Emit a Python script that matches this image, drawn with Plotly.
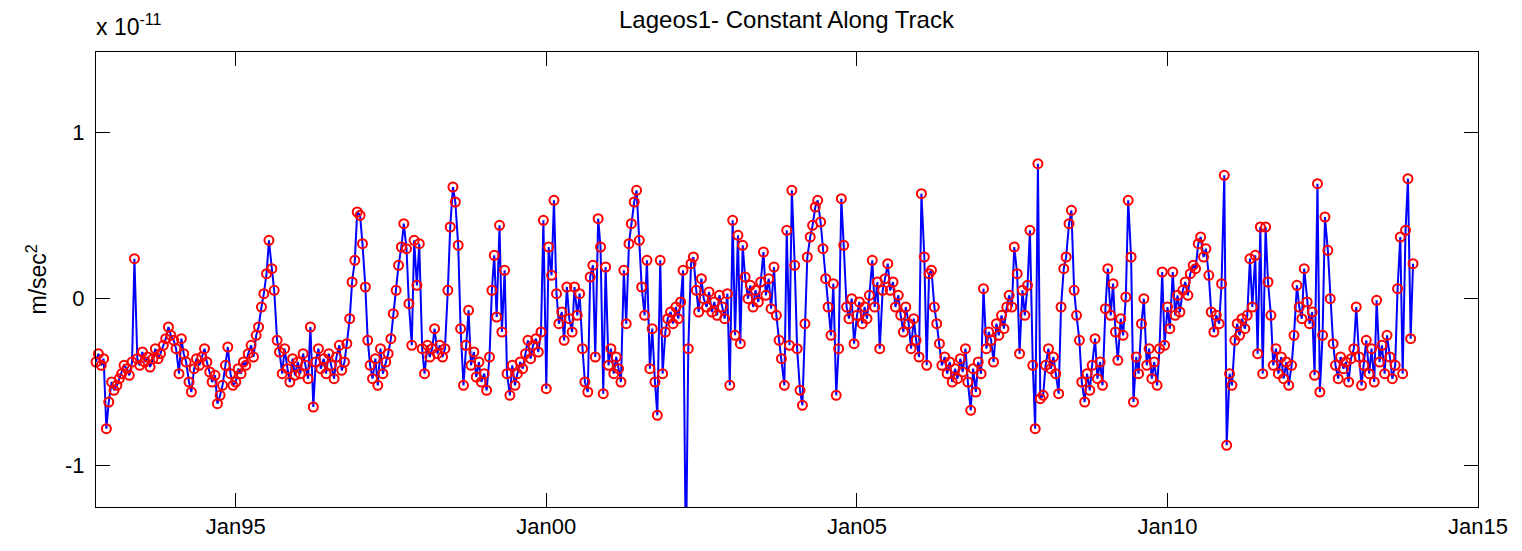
import pandas as pd
import plotly.graph_objects as go

# values in units of 1e-11 m/sec^2, semi-monthly samples per year
v1992 = [-0.38, -0.33, -0.40, -0.36, -0.78, -0.62]
v1993 = [-0.50, -0.55, -0.52, -0.48, -0.45, -0.40, -0.42, -0.46, -0.38, 0.24, -0.36, -0.40,
         -0.32, -0.38, -0.35, -0.41, -0.36, -0.30, -0.36, -0.33, -0.28, -0.24, -0.17, -0.22]
v1994 = [-0.25, -0.30, -0.45, -0.24, -0.33, -0.38, -0.50, -0.56, -0.42, -0.36, -0.40, -0.35,
         -0.30, -0.38, -0.44, -0.50, -0.46, -0.63, -0.58, -0.52, -0.40, -0.29, -0.45, -0.52]
v1995 = [-0.50, -0.42, -0.45, -0.38, -0.40, -0.33, -0.28, -0.35, -0.22, -0.17, -0.05, 0.03,
         0.15, 0.35, 0.18, 0.05, -0.25, -0.32, -0.45, -0.30, -0.42, -0.50, -0.36, -0.46]
v1996 = [-0.38, -0.45, -0.33, -0.40, -0.48, -0.17, -0.65, -0.38, -0.30, -0.42, -0.36, -0.45,
         -0.33, -0.40, -0.48, -0.35, -0.28, -0.43, -0.38, -0.27, -0.12, 0.10, 0.23, 0.52]
v1997 = [0.50, 0.33, 0.07, -0.25, -0.40, -0.48, -0.36, -0.52, -0.30, -0.45, -0.38, -0.33,
         -0.24, -0.09, 0.05, 0.20, 0.31, 0.45, 0.30, -0.03, -0.28, 0.35, 0.08, 0.33]
v1998 = [-0.30, -0.45, -0.28, -0.35, -0.30, -0.18, -0.33, -0.28, -0.35, -0.30, 0.05, 0.43,
         0.67, 0.58, 0.32, -0.18, -0.52, -0.28, -0.07, -0.40, -0.32, -0.47, -0.38, -0.50]
v1999 = [-0.45, -0.55, -0.35, 0.05, 0.26, -0.11, 0.44, -0.20, 0.17, -0.45, -0.58, -0.40,
         -0.52, -0.45, -0.38, -0.42, -0.33, -0.25, -0.36, -0.28, -0.24, -0.32, -0.20, 0.47]
v2000 = [-0.54, 0.31, 0.14, 0.59, 0.03, -0.15, -0.08, -0.25, 0.07, -0.12, -0.20, 0.07,
         -0.10, 0.03, -0.30, -0.50, -0.56, 0.13, 0.20, -0.35, 0.48, 0.31, -0.57, 0.19]
v2001 = [-0.40, -0.30, -0.45, -0.35, -0.42, -0.50, 0.17, -0.15, 0.33, 0.45, 0.58, 0.65,
         0.35, 0.07, -0.10, 0.23, -0.42, -0.18, -0.50, -0.70, 0.23, -0.45, -0.20, -0.12]
v2002 = [-0.08, -0.15, -0.05, -0.12, -0.02, 0.17, -1.60, -0.30, 0.21, 0.25, 0.05, -0.08,
         0.12, 0.00, -0.05, 0.04, -0.08, -0.02, -0.10, 0.02, -0.05, -0.12, 0.03, -0.52]
v2003 = [0.47, -0.22, 0.38, -0.27, 0.32, 0.13, 0.00, 0.08, -0.05, 0.05, -0.02, 0.10,
         0.28, 0.02, 0.12, -0.06, 0.19, -0.10, -0.25, -0.36, -0.52, 0.41, -0.28, 0.65]
v2004 = [0.20, -0.30, -0.55, -0.64, -0.15, 0.25, 0.37, 0.44, 0.55, 0.59, 0.46, 0.30,
         0.12, -0.05, -0.22, 0.09, -0.58, -0.30, 0.60, 0.32, -0.05, -0.12, 0.00, -0.27]
v2005 = [-0.10, -0.02, -0.15, -0.05, -0.12, 0.02, 0.23, -0.05, 0.10, -0.30, 0.05, 0.12,
         0.21, 0.05, 0.10, -0.05, 0.02, -0.10, -0.20, -0.05, -0.15, -0.30, -0.12, -0.25]
v2006 = [-0.35, 0.63, 0.25, -0.40, 0.15, 0.17, -0.05, -0.15, -0.27, -0.40, -0.35, -0.45,
         -0.38, -0.50, -0.42, -0.48, -0.36, -0.44, -0.30, -0.50, -0.67, -0.42, -0.56, -0.38]
v2007 = [-0.45, 0.06, -0.30, -0.20, -0.25, -0.38, -0.15, -0.22, -0.10, -0.18, -0.05, 0.02,
         -0.05, 0.31, 0.15, -0.33, 0.05, -0.10, 0.08, 0.41, -0.40, -0.78, 0.81, -0.60]
v2008 = [-0.58, -0.40, -0.30, -0.42, -0.35, -0.45, -0.57, -0.05, 0.18, 0.25, 0.45, 0.53,
         0.05, -0.10, -0.25, -0.50, -0.62, -0.45, -0.55, -0.40, -0.24, -0.48, -0.38, -0.52]
v2009 = [-0.06, 0.18, -0.10, 0.09, -0.20, -0.37, -0.12, -0.22, 0.01, 0.59, 0.25, -0.62,
         -0.35, -0.45, -0.15, 0.00, -0.40, -0.30, -0.48, -0.38, -0.52, -0.30, 0.16, -0.28]
v2010 = [-0.05, -0.18, 0.16, -0.10, 0.02, -0.08, 0.05, 0.10, 0.02, 0.15, 0.20, 0.18,
         0.33, 0.37, 0.25, 0.30, 0.14, -0.08, -0.20, -0.10, -0.15, 0.09, 0.74, -0.88]
v2011 = [-0.45, -0.52, -0.25, -0.15, -0.22, -0.12, -0.18, -0.10, 0.24, -0.05, 0.26, -0.33,
         0.43, -0.45, 0.43, 0.10, -0.10, -0.40, -0.30, -0.45, -0.35, -0.48, -0.38, -0.52]
v2012 = [-0.40, -0.22, 0.08, -0.05, -0.12, 0.18, -0.02, -0.15, -0.08, -0.46, 0.69, -0.56,
         -0.22, 0.49, 0.29, 0.00, -0.27, -0.40, -0.48, -0.35, -0.42, -0.38, -0.50, -0.36]
v2013 = [-0.30, -0.05, -0.35, -0.52, -0.40, -0.25, -0.45, -0.30, -0.50, -0.01, -0.38, -0.28,
         -0.45, -0.22, -0.35, -0.48, -0.40, 0.06, 0.37, -0.45, 0.41, 0.72, -0.24, 0.21]

segment_starts = ["1992-10-01"] + [f"{y}-01-01" for y in range(1993, 2014)]
segment_values = [v1992, v1993, v1994, v1995, v1996, v1997, v1998, v1999, v2000, v2001,
                  v2002, v2003, v2004, v2005, v2006, v2007, v2008, v2009, v2010, v2011,
                  v2012, v2013]

tick_dates = ["1995-01-01", "2000-01-01", "2005-01-01", "2010-01-01", "2015-01-01"]
tick_labels = ["Jan95", "Jan00", "Jan05", "Jan10", "Jan15"]
y_ticks = [-1, 0, 1]
y_labels = ["-1", "0", "1"]

dates, values = [], []
for start, vals in zip(segment_starts, segment_values):
    d = pd.date_range(start, periods=len(vals), freq="SMS")
    dates.extend(d)
    values.extend(vals)

FONT = "Liberation Sans, Arial, Helvetica, sans-serif"

fig = go.Figure()
fig.add_trace(go.Scatter(
    x=dates, y=values, mode="lines+markers",
    line=dict(color="#0000FF", width=2),
    marker=dict(symbol="circle-open", size=9, color="#FF0000", line=dict(width=2)),
    cliponaxis=False,
))

axis_common = dict(showline=True, linecolor="black", linewidth=1, mirror="ticks",
                   ticks="inside", ticklen=14, tickwidth=1, tickcolor="black",
                   showgrid=False, zeroline=False,
                   tickfont=dict(family=FONT, size=22, color="black"))

fig.update_xaxes(type="date", range=["1992-10-01", "2015-01-01"],
                 tickvals=tick_dates, ticktext=tick_labels, **axis_common)
fig.update_yaxes(range=[-1.25, 1.48], tickvals=y_ticks, ticktext=y_labels,
                 ticklabelstandoff=6, **axis_common)

fig.update_layout(
    width=1522, height=551,
    margin=dict(l=96, r=44, t=52, b=38),
    paper_bgcolor="white", plot_bgcolor="white", showlegend=False,
    font=dict(family=FONT, color="black"),
    annotations=[
        dict(text="Lageos1- Constant Along Track", xref="paper", yref="paper",
             x=0.5, y=1, xanchor="center", yanchor="bottom", yshift=17,
             showarrow=False, font=dict(family=FONT, size=24, color="black")),
        dict(text="x 10<sup>-11</sup>", xref="paper", yref="paper",
             x=0, y=1, xanchor="left", yanchor="bottom", yshift=10, xshift=-2,
             showarrow=False, font=dict(family=FONT, size=23, color="black")),
        dict(text="m/sec<sup>2</sup>", xref="paper", yref="paper",
             x=0, y=0.5, xanchor="center", yanchor="middle", xshift=-60,
             textangle=-90, showarrow=False,
             font=dict(family=FONT, size=23, color="black")),
    ],
)

fig.write_html("out.html")
